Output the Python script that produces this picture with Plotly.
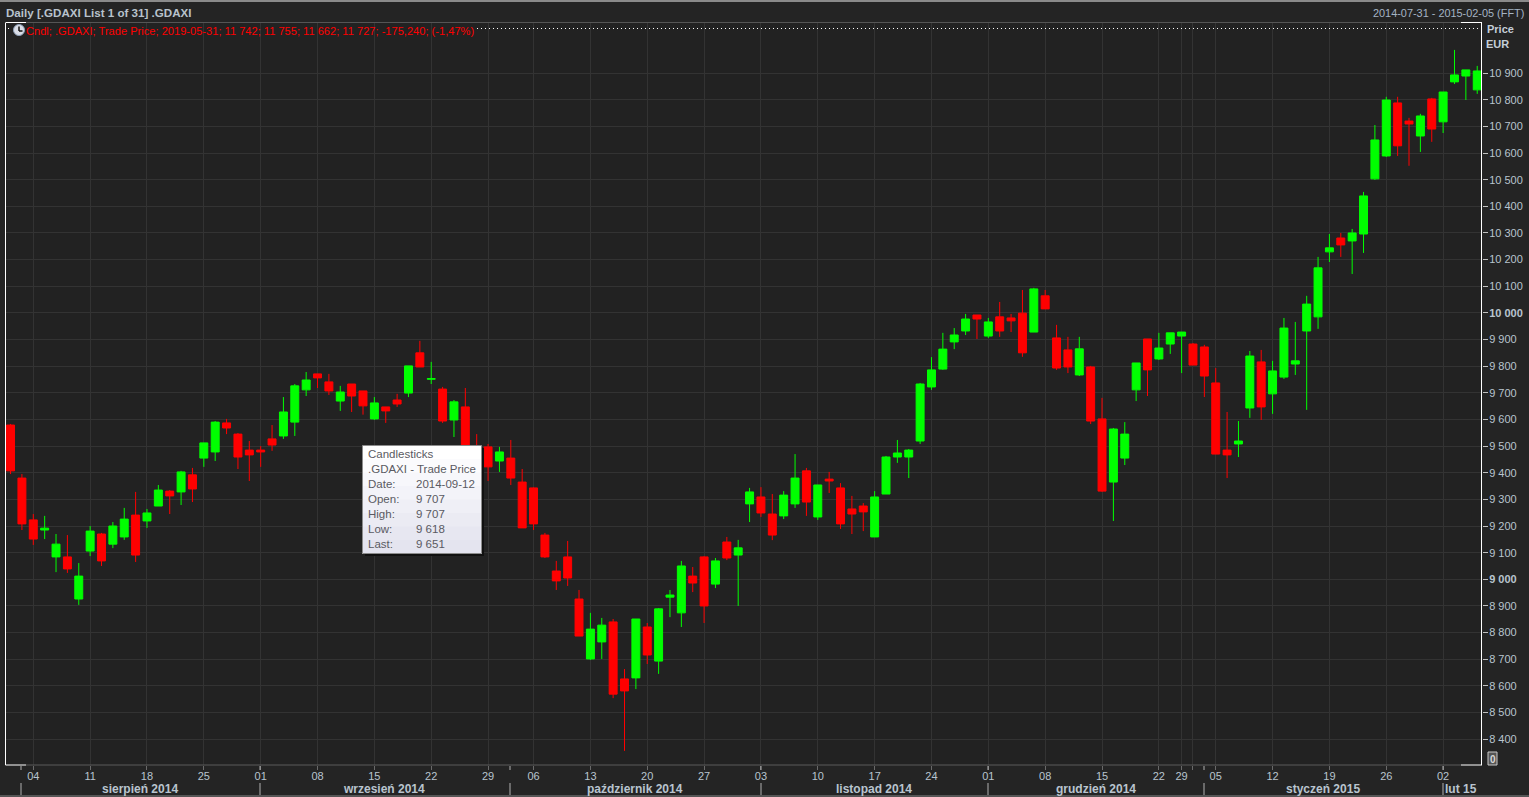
import plotly.graph_objects as go

dates = [
 "2014-07-31","2014-08-01","2014-08-04","2014-08-05","2014-08-06","2014-08-07","2014-08-08",
 "2014-08-11","2014-08-12","2014-08-13","2014-08-14","2014-08-15",
 "2014-08-18","2014-08-19","2014-08-20","2014-08-21","2014-08-22",
 "2014-08-25","2014-08-26","2014-08-27","2014-08-28","2014-08-29",
 "2014-09-01","2014-09-02","2014-09-03","2014-09-04","2014-09-05",
 "2014-09-08","2014-09-09","2014-09-10","2014-09-11","2014-09-12",
 "2014-09-15","2014-09-16","2014-09-17","2014-09-18","2014-09-19",
 "2014-09-22","2014-09-23","2014-09-24","2014-09-25","2014-09-26",
 "2014-09-29","2014-09-30","2014-10-01","2014-10-02",
 "2014-10-06","2014-10-07","2014-10-08","2014-10-09","2014-10-10",
 "2014-10-13","2014-10-14","2014-10-15","2014-10-16","2014-10-17",
 "2014-10-20","2014-10-21","2014-10-22","2014-10-23","2014-10-24",
 "2014-10-27","2014-10-28","2014-10-29","2014-10-30","2014-10-31",
 "2014-11-03","2014-11-04","2014-11-05","2014-11-06","2014-11-07",
 "2014-11-10","2014-11-11","2014-11-12","2014-11-13","2014-11-14",
 "2014-11-17","2014-11-18","2014-11-19","2014-11-20","2014-11-21",
 "2014-11-24","2014-11-25","2014-11-26","2014-11-27","2014-11-28",
 "2014-12-01","2014-12-02","2014-12-03","2014-12-04","2014-12-05",
 "2014-12-08","2014-12-09","2014-12-10","2014-12-11","2014-12-12",
 "2014-12-15","2014-12-16","2014-12-17","2014-12-18","2014-12-19",
 "2014-12-22","2014-12-23","2014-12-29","2014-12-30","2015-01-02",
 "2015-01-05","2015-01-06","2015-01-07","2015-01-08","2015-01-09",
 "2015-01-12","2015-01-13","2015-01-14","2015-01-15","2015-01-16",
 "2015-01-19","2015-01-20","2015-01-21","2015-01-22","2015-01-23",
 "2015-01-26","2015-01-27","2015-01-28","2015-01-29","2015-01-30",
 "2015-02-02","2015-02-03","2015-02-04","2015-02-05",
]
opens = [
 9579,9380,9223,9185,9084,9084,8926,9106,9170,9132,9159,9241,9219,9275,9331,9328,9392,9455,9478,9587,
 9545,9485,9485,9527,9538,9590,9711,9771,9741,9669,9733,9707,9602,9647,9673,9699,9850,9751,9714,9598,
 9647,9480,9497,9444,9455,9365,9343,9166,9031,9084,8926,8701,8765,8840,8626,8630,8821,8693,8933,8874,
 9012,9084,8982,9140,9091,9283,9309,9245,9238,9283,9407,9234,9376,9343,9264,9275,9159,9320,9459,9459,
 9519,9722,9789,9891,9932,9992,9913,9985,9981,9999,9928,10064,9906,9861,9767,9797,9602,9365,9455,9711,
 9902,9827,9883,9913,9883,9872,9737,9485,9508,9643,9816,9696,9759,9808,9932,9985,10229,10281,10270,10296,
 10503,10589,10788,10720,10664,10803,10717,10867,10889,10837,
]
highs = [
 9583,9395,9245,9238,9170,9166,9061,9200,9174,9215,9268,9328,9264,9354,9335,9407,9418,9512,9594,9602,
 9549,9519,9500,9579,9684,9733,9778,9771,9771,9726,9733,9707,9684,9647,9696,9801,9895,9816,9722,9673,
 9718,9545,9508,9497,9523,9414,9345,9174,9069,9144,8960,8874,8855,8851,8663,8851,8836,8892,8960,9069,
 9046,9087,9080,9159,9148,9343,9346,9320,9331,9470,9418,9354,9403,9361,9313,9286,9331,9463,9523,9489,
 9737,9834,9925,9943,9996,9992,9981,10041,9996,10086,10094,10086,9955,9910,9910,9801,9681,9568,9590,9812,
 9902,9925,9925,9928,9887,9880,9793,9628,9594,9857,9861,9820,9981,9966,10064,10210,10296,10300,10315,10454,
 10705,10811,10811,10732,10747,10807,10829,10987,10912,10927,
]
lows = [
 9395,9185,9129,9151,9027,9024,8904,9087,9050,9117,9148,9065,9193,9275,9245,9279,9290,9422,9444,9545,
 9414,9369,9422,9482,9527,9538,9688,9718,9692,9632,9628,9618,9598,9587,9647,9684,9797,9733,9587,9534,
 9440,9400,9369,9403,9354,9193,9185,9080,8960,8975,8787,8697,8701,8554,8356,8588,8682,8645,8858,8821,
 8952,8836,8967,9072,8900,9215,9234,9147,9226,9268,9238,9223,9324,9189,9170,9181,9159,9320,9437,9380,
 9508,9711,9786,9864,9917,9902,9906,9910,9928,9835,9928,10015,9786,9774,9763,9583,9328,9219,9429,9669,
 9688,9823,9846,9774,9804,9684,9470,9380,9459,9606,9598,9621,9752,9767,9636,9940,10191,10210,10146,10225,
 10499,10585,10589,10552,10604,10642,10675,10859,10799,10822,
]
closes = [
 9407,9208,9151,9192,9132,9039,9012,9181,9069,9200,9226,9091,9249,9335,9313,9403,9339,9512,9590,9568,
 9459,9467,9478,9504,9628,9726,9748,9756,9707,9703,9688,9651,9662,9632,9658,9801,9797,9753,9594,9666,
 9490,9440,9422,9478,9380,9193,9208,9084,8994,9005,8787,8813,8828,8569,8581,8851,8716,8889,8941,9050,
 8986,8900,9069,9080,9118,9328,9249,9166,9316,9380,9290,9354,9369,9208,9245,9253,9309,9459,9474,9485,
 9733,9786,9864,9917,9977,9977,9966,9932,9970,9850,10090,10015,9793,9797,9865,9594,9331,9564,9545,9812,
 9786,9868,9925,9928,9804,9763,9470,9467,9519,9838,9647,9782,9943,9820,10033,10169,10244,10255,10300,10439,
 10649,10799,10627,10709,10739,10690,10829,10893,10912,10908,
]
week_dates = ["2014-08-04","2014-08-11","2014-08-18","2014-08-25","2014-09-01","2014-09-08","2014-09-15",
              "2014-09-22","2014-09-29","2014-10-06","2014-10-13","2014-10-20","2014-10-27","2014-11-03",
              "2014-11-10","2014-11-17","2014-11-24","2014-12-01","2014-12-08","2014-12-15","2014-12-22",
              "2014-12-29","2014-12-30","2015-01-05","2015-01-12","2015-01-19","2015-01-26","2015-02-02"]
week_labels = ["04","11","18","25","01","08","15","22","29","06","13","20","27","03","10","17","24",
               "01","08","15","22","29","","05","12","19","26","02"]
price_ticks = [8400,8500,8600,8700,8800,8900,9000,9100,9200,9300,9400,9500,9600,9700,9800,9900,
               10000,10100,10200,10300,10400,10500,10600,10700,10800,10900]
price_labels = ["8 400","8 500","8 600","8 700","8 800","8 900","<b>9 000</b>","9 100","9 200","9 300",
                "9 400","9 500","9 600","9 700","9 800","9 900","<b>10 000</b>","10 100","10 200","10 300",
                "10 400","10 500","10 600","10 700","10 800","10 900"]
month_labels = ["sierpień 2014","wrzesień 2014","październik 2014","listopad 2014","grudzień 2014","styczeń 2015","lut 15"]
month_centers = [140,384,635,874,1096,1323,1461]
month_separators = [21,260,510,761,988,1204,1443]
tooltip_keys = ["Date:","Open:","High:","Low:","Last:"]
tooltip_vals = ["2014-09-12","9 707","9 707","9 618","9 651"]

W, H = 1529, 797
L, R, T, B = 6, 1482, 23, 765
FONT = "Liberation Sans"
TXT = "#b9c4cf"

def X(px): return (px - L) / (R - L)
def Y(py): return (B - py) / (B - T)

shapes, ann = [], []

def rect(x0, y0, x1, y1, fill, line=None, layer="above"):
    shapes.append(dict(type="rect", xref="paper", yref="paper", x0=X(x0), x1=X(x1), y0=Y(y0), y1=Y(y1),
                       fillcolor=fill, line=dict(color=line or fill, width=1 if line else 0), layer=layer))

def seg(x0, y0, x1, y1, color, width=1, dash="solid"):
    shapes.append(dict(type="line", xref="paper", yref="paper", x0=X(x0), x1=X(x1), y0=Y(y0), y1=Y(y1),
                       line=dict(color=color, width=width, dash=dash), layer="above"))

def text(px, py, s, size=11, color=TXT, anchor="left"):
    ann.append(dict(xref="paper", yref="paper", x=X(px), y=Y(py), text=s, showarrow=False, xanchor=anchor,
                    yanchor="middle", align=anchor, font=dict(family=FONT, size=size, color=color),
                    borderpad=0, borderwidth=0))

# window chrome
rect(0, 0, W, 2, "#8a8a8a")
rect(0, 795, W, 797, "#555555")
seg(5.5, 22.5, 1461, 22.5, "#555555")
seg(26, 765, 1461, 765, "#5a5a5a")
seg(5.5, 23, 5.5, 765, "#ffffff")
seg(1481.5, 23, 1481.5, 765, "#ffffff")
seg(5.5, 22.5, 26, 22.5, "#ffffff")
seg(1461, 22.5, 1482, 22.5, "#ffffff")
seg(5.5, 765, 26, 765, "#ffffff")
seg(1461, 765, 1482, 765, "#ffffff")
seg(477, 28.5, 1480, 28.5, "#ffffff", 1, "1px,3px")
seg(8, 28.5, 12, 28.5, "#ffffff", 1, "1px,3px")

# header / legend texts
text(6, 12.5, "<b>Daily [.GDAXI List 1 of 31] .GDAXI</b>", 11.6, "#b8c2cc")
text(1524, 13, "2014-07-31 - 2015-02-05 (FFT)", 10.9, "#a5b4c4", "right")
text(26, 31, "Cndl; .GDAXI; Trade Price; 2019-05-31; 11 742; 11 755; 11 662; 11 727; -175,240; (-1,47%)", 11.1, "#ff0000")
text(1487, 29, "<b>Price</b>", 11, "#c4ced8")
text(1486, 44, "<b>EUR</b>", 11, "#c4ced8")

# clock icon
shapes.append(dict(type="circle", xref="paper", yref="paper", x0=X(13.5), x1=X(24.5), y0=Y(24.5), y1=Y(35.5),
                   fillcolor="#d9dde6", line=dict(color="#8fa0b8", width=1), layer="above"))
seg(19, 26.5, 19, 31, "#111111", 1.5)
seg(19, 31, 22.5, 31, "#111111", 1.5)

# month band
for xs in month_separators:
    seg(xs, 783, xs, 795, "#b0b0b0")
    seg(xs, 766, xs, 770, "#b0b0b0")
for xc, s in zip(month_centers, month_labels):
    text(xc, 789, f"<b>{s}</b>", 12, "#b9c4cf", "center")

# zero button
rect(1488, 752, 1497, 765, "#555555", "#c8c8c8")
text(1492.5, 759, "<b>0</b>", 10, "#d8d8d8", "center")

# tooltip (shadow, gradient bands, border)
rect(365, 448, 484, 556, "#111111")
bands = ["#ffffff", "#fbfbfd", "#f7f7fb", "#f3f3f9", "#efeff6", "#ebebf3", "#e7e7f1", "#e4e4ef"]
top, bot = 445.5, 553.5
for i, c in enumerate(bands):
    rect(362.5, top + (bot - top) * i / len(bands), 481.5, bot, c)
shapes.append(dict(type="rect", xref="paper", yref="paper", x0=X(362.5), x1=X(481.5), y0=Y(445.5), y1=Y(553.5),
                   line=dict(color="#8c8c8c", width=1), fillcolor="rgba(0,0,0,0)", layer="above"))
TC = "#5a5a62"
text(368, 454, "Candlesticks", 11.5, TC)
text(368, 469, ".GDAXI - Trade Price", 11.5, TC)
for i, (k, v) in enumerate(zip(tooltip_keys, tooltip_vals)):
    yy = 484 + 15 * i
    text(368, yy, k, 11.5, TC)
    text(416, yy, v, 11.5, TC)

fig = go.Figure(go.Candlestick(
    x=dates, open=opens, high=highs, low=lows, close=closes,
    increasing=dict(line=dict(color="#00ff00", width=1), fillcolor="#00ff00"),
    decreasing=dict(line=dict(color="#ff0000", width=1), fillcolor="#ff0000"),
    showlegend=False, hoverinfo="skip",
))

fig.update_layout(
    width=W, height=H, autosize=False,
    margin=dict(l=L, r=W - R, t=T, b=H - B, pad=0),
    paper_bgcolor="#242424", plot_bgcolor="#222222",
    font=dict(family=FONT, size=11, color=TXT),
    hovermode=False, showlegend=False,
    boxgap=0.3, boxgroupgap=0,
    shapes=shapes, annotations=ann,
    xaxis=dict(
        type="category", categoryorder="array", categoryarray=dates,
        range=[-0.40, 129.42], rangeslider=dict(visible=False),
        tickmode="array", tickvals=week_dates, ticktext=week_labels,
        ticks="outside", ticklen=4, tickcolor="#6a6a6a", tickwidth=1, ticklabelstandoff=-3,
        showgrid=True, gridcolor="#333333", gridwidth=1, zeroline=False, showline=False,
        tickangle=0, tickfont=dict(family=FONT, size=11, color=TXT), fixedrange=True,
    ),
    yaxis=dict(
        side="right", range=[8303, 11088],
        tickmode="array", tickvals=price_ticks, ticktext=price_labels,
        ticks="outside", ticklen=5, tickcolor="#c0c0c0", tickwidth=1, ticklabelstandoff=-1,
        showgrid=True, gridcolor="#333333", gridwidth=1, zeroline=False, showline=False,
        tickfont=dict(family=FONT, size=11, color=TXT), fixedrange=True,
    ),
)

fig.write_html("out.html", config=dict(displayModeBar=False, staticPlot=True),
               post_script="document.body.style.margin='0';document.body.style.overflow='hidden';window.dispatchEvent(new Event('resize'));")
